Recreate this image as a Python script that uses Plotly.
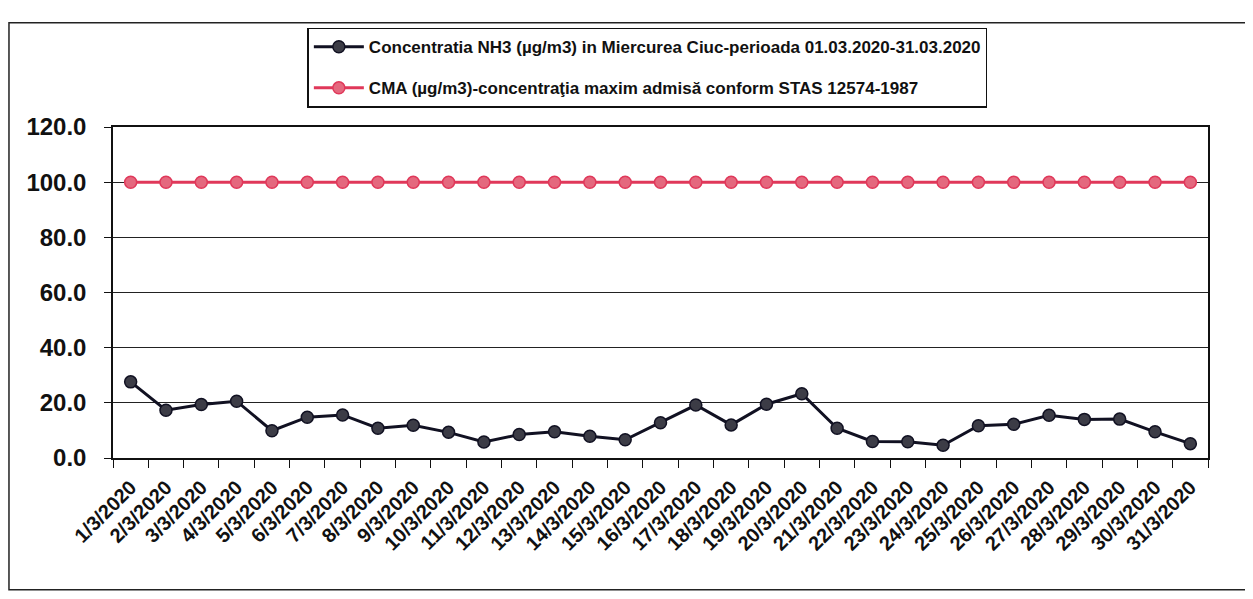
import plotly.graph_objects as go

# days of March 2020 as printed on the x axis
dates = [f"{d}/3/2020" for d in range(1, 32)]

# NH3 concentration (ug/m3)
nh3 = [
    27.6, 17.3, 19.4, 20.6, 9.9, 14.8, 15.6, 10.8, 11.9, 9.3,
    5.8, 8.5, 9.5, 7.9, 6.6, 12.8, 19.2, 12.0, 19.5, 23.3,
    10.8, 6.0, 5.9, 4.6, 11.7, 12.2, 15.5, 14.0, 14.1, 9.5,
    5.2,
]

# max admissible concentration (STAS 12574-1987)
cma = [100.0] * 31

fig = go.Figure()

fig.add_trace(
    go.Scatter(
        x=dates,
        y=nh3,
        mode="lines+markers",
        name="Concentratia NH3 (µg/m3) in Miercurea Ciuc-perioada 01.03.2020-31.03.2020",
        legendgroup="nh3",
        line=dict(color="#111122", width=3),
        marker=dict(size=12, color="#3c3c46", line=dict(color="#111122", width=1.5)),
    )
)

fig.add_trace(
    go.Scatter(
        x=dates,
        y=cma,
        mode="lines+markers",
        name="CMA (µg/m3)-concentraţia maxim admisă conform STAS 12574-1987",
        legendgroup="cma",
        line=dict(color="#e0385a", width=3),
        marker=dict(size=12, color="#e4687e", line=dict(color="#e0385a", width=1.5)),
    )
)

# page body has an 8px margin, so the figure is a bit smaller than the window
fig.update_layout(
    width=1237,
    height=583,
    margin=dict(l=105, r=37, t=119, b=133),
    plot_bgcolor="white",
    paper_bgcolor="white",
    font_family="Liberation Sans",
    font_color="#111111",
    legend=dict(
        x=0.488,
        xanchor="center",
        y=1.30,
        yanchor="top",
        bordercolor="#111111",
        borderwidth=1.5,
        bgcolor="white",
        font=dict(size=17, family="Liberation Sans", color="#111111", weight="bold"),
        tracegroupgap=16,
        itemwidth=50,
    ),
    shapes=[
        # outer chart frame
        dict(
            type="rect", xref="paper", yref="paper",
            x0=-0.095, x1=1.038, y0=-0.398, y1=1.315,
            line=dict(color="#222222", width=1.5),
        )
    ],
)

# Excel-style category axis: ticks between days, no padding at the ends
fig.update_xaxes(
    type="category",
    range=[-0.5, len(dates) - 0.5],
    tickangle=-45,
    tickfont=dict(size=20, family="Liberation Sans", color="#111111", weight="bold"),
    ticks="outside",
    tickson="boundaries",
    ticklen=8,
    ticklabelstandoff=8,
    tickcolor="#111111",
    showline=True,
    linecolor="#111111",
    linewidth=1.5,
    mirror=True,
    showgrid=False,
)

fig.update_yaxes(
    range=[0, 120],
    dtick=20,
    tickformat=".1f",
    tickfont=dict(size=24, family="Liberation Sans", color="#111111", weight="bold"),
    ticks="outside",
    ticklen=7,
    ticklabelstandoff=13,
    tickcolor="#111111",
    showline=True,
    linecolor="#111111",
    linewidth=1.5,
    mirror=True,
    showgrid=True,
    gridcolor="#222222",
    gridwidth=1,
    zeroline=False,
)

fig.write_html("out.html")
